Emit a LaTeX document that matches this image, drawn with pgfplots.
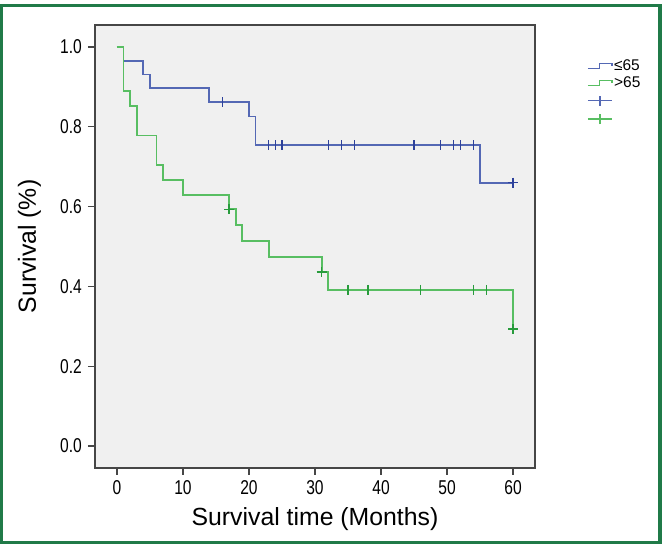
\documentclass[border=0pt]{standalone}
\usepackage{pgfplots}
\pgfplotsset{compat=1.18}
\usepackage{fontspec}
\setmainfont{Liberation Sans}
\newfontfamily\tickfont[FakeStretch=0.78]{Liberation Sans}
\definecolor{kmblue}{RGB}{84,104,180}
\definecolor{kmbluedark}{RGB}{45,65,155}
\definecolor{kmgreen}{RGB}{88,190,98}
\definecolor{kmgreendark}{RGB}{40,155,60}
\definecolor{plotbg}{RGB}{240,240,240}
\definecolor{axisgray}{RGB}{70,70,70}
\definecolor{bordergreen}{RGB}{32,122,72}
\begin{document}
\begin{tikzpicture}[x=1pt,y=1pt]
\fill[white] (0,0) rectangle (662,545);
\begin{axis}[
  at={(95pt,77pt)}, anchor=south west,
  scale only axis, width=440pt, height=443pt,
  xmin=-3.33, xmax=63.33, ymin=-0.0551, ymax=1.0551,
  axis background/.style={fill=plotbg},
  axis line style={axisgray, line width=1.3pt},
  tick align=outside, xtick pos=bottom, ytick pos=left,
  tick style={axisgray, line width=1.2pt},
  major tick length=7pt,
  xtick={0,10,20,30,40,50,60},
  ytick={0,0.2,0.4,0.6,0.8,1},
  /pgf/number format/assume math mode=true,
  yticklabel style={/pgf/number format/fixed, /pgf/number format/fixed zerofill, /pgf/number format/precision=1},
  ticklabel style={font=\tickfont\fontsize{20}{24}\selectfont, inner sep=0pt},
  xticklabel style={yshift=-5pt},
  yticklabel style={xshift=-6pt},
  xlabel={Survival time (Months)},
  ylabel={Survival (\%)},
  label style={font=\fontsize{24.8}{28}\selectfont, inner sep=0pt},
  xlabel style={at={(axis description cs:0.5,0)}, anchor=base, yshift=-58pt},
  ylabel style={at={(axis description cs:0,0.5)}, anchor=base, yshift=59pt},
  legend style={at={(1.118,0.925)}, anchor=north west, draw=none, fill=none,
    font=\fontsize{15.5}{18}\selectfont, inner sep=0pt, row sep=1.5pt,
    nodes={inner sep=1.5pt}},
  legend cell align=left,
]
% survival curves
\addplot[const plot, kmblue, line width=1.8pt, forget plot] coordinates {
 (0,1) (1,0.9655) (4,0.931) (5,0.897) (14,0.862) (20,0.826) (21,0.754) (55,0.66) (60,0.66)};
\addplot[const plot, kmgreen, line width=1.8pt, forget plot] coordinates {
 (0,1) (1,0.889) (2,0.852) (3,0.778) (6,0.704) (7,0.667) (10,0.630) (17,0.593) (18,0.554)
 (19,0.514) (23,0.474) (31,0.436) (32,0.391) (60,0.293)};
% censored marks
\addplot[only marks, mark=|, mark size=5pt, kmbluedark, mark options={line width=1.4pt}, forget plot] coordinates {
 (16,0.862) (23,0.754) (24,0.754) (25,0.754) (32,0.754) (34,0.754) (36,0.754)
 (45,0.754) (49,0.754) (51,0.754) (52,0.754) (54,0.754)};
\addplot[only marks, mark=+, mark size=5pt, kmbluedark, mark options={line width=1.6pt}, forget plot] coordinates {(60,0.66)};
\addplot[only marks, mark=|, mark size=5pt, kmgreendark, mark options={line width=1.4pt}, forget plot] coordinates {
 (35,0.391) (38,0.391) (46,0.391) (54,0.391) (56,0.391)};
\addplot[only marks, mark=+, mark size=5pt, kmgreendark, mark options={line width=1.6pt}, forget plot] coordinates {
 (17,0.593) (31,0.436) (60,0.293)};
% legend
\addlegendimage{legend image code/.code={\draw[kmblue, line width=1.5pt] (0pt,-2.5pt) -- (11.5pt,-2.5pt) -- (11.5pt,2.5pt) -- (24pt,2.5pt) -- (24pt,0pt);}}
\addlegendentry{≤65}
\addlegendimage{legend image code/.code={\draw[kmgreen, line width=1.5pt] (0pt,-2.5pt) -- (11.5pt,-2.5pt) -- (11.5pt,2.5pt) -- (24pt,2.5pt) -- (24pt,0pt);}}
\addlegendentry{>65}
\addlegendimage{legend image code/.code={\draw[kmblue, line width=1.5pt] (0pt,0pt) -- (24pt,0pt) (12pt,-5pt) -- (12pt,5pt);}}
\addlegendentry{\strut}
\addlegendimage{legend image code/.code={\draw[kmgreen, line width=1.5pt] (0pt,0pt) -- (24pt,0pt) (12pt,-5pt) -- (12pt,5pt);}}
\addlegendentry{\strut}
\end{axis}
\draw[bordergreen, line width=3.2pt] (1.7,2.7) rectangle (660,539.7);
\pgfresetboundingbox
\useasboundingbox (0,0) rectangle (662,545);
\end{tikzpicture}
\end{document}
